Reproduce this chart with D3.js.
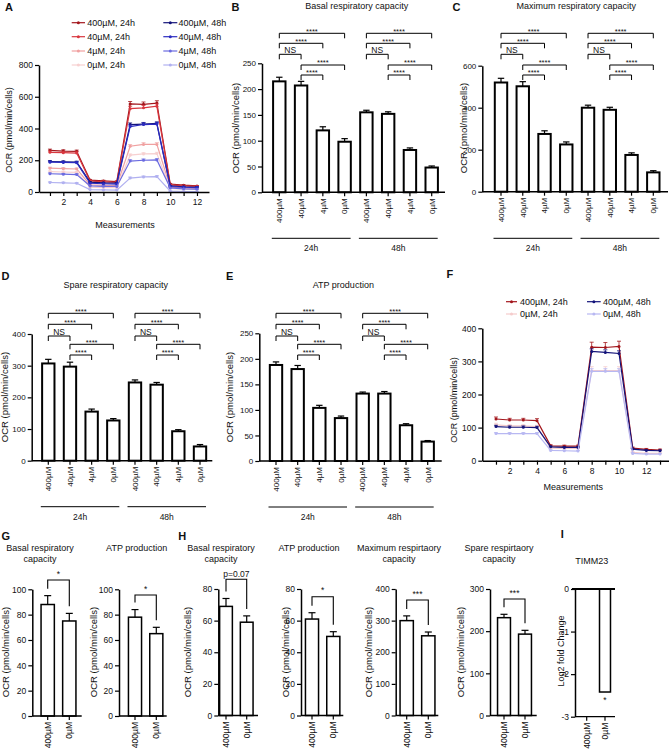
<!DOCTYPE html>
<html>
<head>
<meta charset="utf-8">
<script src="https://cdn.jsdelivr.net/npm/d3@7"></script>
<style>
  body { margin: 0; background: #fff; }
  svg { font-family: Arial, "Liberation Sans", Helvetica, sans-serif; }
</style>
</head>
<body>
<svg id="fig" width="669" height="755"></svg>
<script>
// ---------- data ----------
const doses = ["400µM", "40µM", "4µM", "0µM"];
const groups = ["24h", "48h"];
const pairLabels = ["400µM", "0µM"];

// B-E: 24h then 48h, each 400 / 40 / 4 / 0 µM
const basalMean = [215, 207, 120, 98, 155, 152, 82, 48];
const basalErr = [8, 8, 7, 6, 4, 4, 4, 3];
const maxMean = [520, 502, 275, 225, 400, 390, 175, 92];
const maxErr = [20, 22, 15, 12, 12, 12, 10, 8];
const spareMean = [307, 297, 155, 127, 247, 240, 93, 45];
const spareErr = [13, 14, 8, 6, 8, 7, 5, 6];
const atpMean = [188, 180, 104, 84, 132, 132, 70, 38];
const atpErr = [6, 7, 5, 4, 3, 4, 3, 2];

// comparisons inside each time group (index within group)
const compPairs = [[0, 3], [0, 2], [0, 1], [1, 3], [1, 2]];
const compLabels = ["****", "****", "NS", "****", "****"];

// A: seahorse traces, measurements 1-12
const measA = [1, 2, 3, 4, 5, 6, 7, 8, 9, 10, 11, 12];
const a400_24 = [262, 258, 256, 75, 70, 66, 555, 552, 560, 50, 43, 38];
const a40_24 = [250, 248, 245, 70, 64, 61, 525, 530, 540, 45, 38, 35];
const a4_24 = [150, 147, 145, 45, 42, 40, 288, 300, 300, 30, 25, 22];
const a0_24 = [128, 126, 124, 30, 28, 27, 232, 240, 242, 22, 18, 16];
const a400_48 = [192, 190, 188, 62, 58, 56, 425, 428, 432, 38, 33, 30];
const a40_48 = [188, 186, 185, 55, 52, 50, 412, 425, 428, 34, 30, 28];
const a4_48 = [115, 112, 110, 38, 36, 35, 195, 200, 202, 25, 20, 18];
const a0_48 = [60, 58, 55, 15, 13, 12, 88, 95, 97, 5, 3, 2];
const a400_24e = [8, 8, 8, 4, 4, 4, 15, 15, 15, 4, 3, 3];
const a40_24e = [8, 8, 8, 4, 4, 4, 15, 15, 15, 4, 3, 3];
const a4_24e = [6, 6, 6, 3, 3, 3, 10, 10, 10, 3, 3, 3];
const a0_24e = [5, 5, 5, 3, 3, 3, 8, 8, 8, 3, 2, 2];
const a400_48e = [6, 6, 6, 3, 3, 3, 10, 10, 10, 3, 3, 3];
const a40_48e = [6, 6, 6, 3, 3, 3, 10, 10, 10, 3, 3, 3];
const a4_48e = [5, 5, 5, 3, 3, 3, 8, 8, 8, 3, 2, 2];
const a0_48e = [4, 4, 4, 2, 2, 2, 6, 6, 6, 2, 2, 2];

// F: seahorse traces, measurements 1-13
const measF = [1, 2, 3, 4, 5, 6, 7, 8, 9, 10, 11, 12, 13];
const f400_24 = [126, 123, 123, 121, 45, 44, 44, 343, 342, 345, 38, 34, 32];
const f400_48 = [103, 101, 101, 100, 42, 40, 40, 330, 327, 324, 35, 31, 30];
const f0_24 = [108, 105, 105, 103, 38, 37, 37, 272, 272, 272, 25, 22, 22];
const f0_48 = [82, 82, 82, 82, 31, 30, 29, 270, 270, 270, 22, 20, 20];
const f400_24e = [6, 5, 5, 6, 3, 3, 3, 15, 15, 16, 3, 3, 3];
const f400_48e = [4, 4, 4, 4, 2, 2, 2, 8, 8, 8, 2, 2, 2];
const f0_24e = [5, 4, 4, 4, 2, 2, 2, 12, 12, 12, 2, 2, 2];
const f0_48e = [3, 3, 3, 3, 2, 2, 2, 8, 8, 8, 2, 2, 2];

// G / H: 400µM vs 0µM
const gBasal = [88, 75], gBasalErr = [7, 6];
const gAtp = [78, 65], gAtpErr = [6, 5];
const hBasal = [69, 59], hBasalErr = [5, 4];
const hAtp = [61, 50], hAtpErr = [4, 3];
const hMax = [300, 252], hMaxErr = [15, 12];
const hSpare = [232, 193], hSpareErr = [8, 9];

// I: TIMM23 log2 fold change
const timm23 = [0, -2.42];

// ---------- helpers ----------
const FONT = 'Arial, "Liberation Sans", Helvetica, sans-serif';
const svg = d3.select("#fig");

function txt(x, y, s, size, anchor, weight, rot) {
  const t = svg.append("text")
    .attr("x", x).attr("y", y).text(s)
    .attr("font-size", size)
    .attr("text-anchor", anchor || "start")
    .attr("font-weight", weight || "normal")
    .attr("fill", "#111");
  if (rot) t.attr("transform", `rotate(-90,${x},${y})`);
  return t;
}

function styleAxis(g, size) {
  g.attr("font-family", FONT).attr("font-size", size);
  g.select(".domain").attr("stroke", "#000").attr("stroke-width", 1.5);
  g.selectAll(".tick line").attr("stroke", "#000").attr("stroke-width", 1.2);
  g.selectAll(".tick text").attr("fill", "#111");
}

function rotateLabels(g) {
  g.selectAll(".tick text")
    .attr("transform", "rotate(-90)")
    .attr("x", -6).attr("y", 0).attr("dy", "0.35em")
    .attr("text-anchor", "end");
}

function errBars(g, xs, ys, tops, cap) {
  xs.forEach((x, i) => {
    g.append("line").attr("x1", x).attr("x2", x)
      .attr("y1", ys[i]).attr("y2", tops[i])
      .attr("stroke", "#000").attr("stroke-width", 1.2);
    g.append("line").attr("x1", x - cap).attr("x2", x + cap)
      .attr("y1", tops[i]).attr("y2", tops[i])
      .attr("stroke", "#000").attr("stroke-width", 1.2);
  });
}

// ---------- 8-bar panels (B-E) ----------
function barPanel(p, means, errs) {
  const keys = [];
  groups.forEach(g => doses.forEach(d => keys.push(g + "|" + d)));
  const step = (p.cLast - p.cFirst) / (keys.length - 1);
  const x = d3.scaleBand().domain(keys)
    .range([p.cFirst - step / 2, p.cLast + step / 2])
    .paddingInner(0.43).paddingOuter(0.215);
  const y = d3.scaleLinear().domain([0, p.yMax]).range([p.yBot, p.yTop]);
  const bw = x.bandwidth();
  const cx = k => x(k) + bw / 2;
  const g = svg.append("g");

  g.selectAll("rect").data(means).join("rect")
    .attr("x", (d, i) => x(keys[i]))
    .attr("y", d => y(d))
    .attr("width", bw)
    .attr("height", d => p.yBot - y(d))
    .attr("fill", "#fff").attr("stroke", "#000").attr("stroke-width", 2);

  errBars(g, keys.map(cx), means.map(y), means.map((d, i) => y(d + errs[i])), 3.2);

  const ya = g.append("g").attr("transform", `translate(${p.axisX},0)`)
    .call(d3.axisLeft(y).tickValues(p.ticks).tickSize(4).tickPadding(2).tickSizeOuter(0));
  styleAxis(ya, 8);

  const xa = g.append("g").attr("transform", `translate(0,${p.yBot})`)
    .call(d3.axisBottom(x).tickSize(4).tickFormat(k => k.split("|")[1]));
  xa.select(".domain").remove();
  styleAxis(xa, 8);
  rotateLabels(xa);
  g.append("line").attr("x1", p.axisX).attr("x2", p.axisEnd)
    .attr("y1", p.yBot).attr("y2", p.yBot)
    .attr("stroke", "#000").attr("stroke-width", 1.5);

  // significance brackets
  groups.forEach((gName, gi) => {
    compPairs.forEach((pr, k) => {
      const x1 = cx(keys[gi * 4 + pr[0]]), x2 = cx(keys[gi * 4 + pr[1]]);
      const by = p.brY[k];
      g.append("path")
        .attr("d", `M${x1},${by + 5}V${by}H${x2}V${by + 5}`)
        .attr("fill", "none").attr("stroke", "#000").attr("stroke-width", 1);
      const lab = compLabels[k];
      if (lab === "NS") txt((x1 + x2) / 2, by - 1.3, lab, 8.5, "middle");
      else txt((x1 + x2) / 2, by + 0.3, lab, 7.5, "middle");
    });
    // group underline
    const l0 = cx(keys[gi * 4]) - 7.5, l1 = cx(keys[gi * 4 + 3]) + 6;
    g.append("line").attr("x1", l0).attr("x2", l1)
      .attr("y1", p.groupY).attr("y2", p.groupY)
      .attr("stroke", "#000").attr("stroke-width", 1);
    txt((l0 + l1) / 2, p.groupY + 13, gName, 8.5, "middle");
  });

  txt(p.titleX, p.titleY, p.title, 9, "middle");
  txt(p.letterX, p.letterY, p.letter, 11, "start", "bold");
  txt(p.yTitleX, p.yTitleY, "OCR (pmol/min/cells)", 9.5, "middle", null, true);
}

// ---------- trace panels (A, F) ----------
function linePanel(p, meas, series) {
  const x = d3.scaleLinear().domain(p.xDomain).range(p.xRange);
  const y = d3.scaleLinear().domain([0, p.yMax]).range([p.yBot, p.yTop]);
  const g = svg.append("g");
  const line = d3.line().x((d, i) => x(meas[i])).y(d => y(d));

  series.forEach(s => {
    const sg = g.append("g");
    sg.append("path").attr("d", line(s.values))
      .attr("fill", "none").attr("stroke", s.color).attr("stroke-width", 1.2);
    s.values.forEach((v, i) => {
      const xx = x(meas[i]), top = y(v + s.errs[i]);
      sg.append("line").attr("x1", xx).attr("x2", xx).attr("y1", y(v)).attr("y2", top)
        .attr("stroke", s.color).attr("stroke-width", 0.8);
      sg.append("line").attr("x1", xx - 2).attr("x2", xx + 2).attr("y1", top).attr("y2", top)
        .attr("stroke", s.color).attr("stroke-width", 0.8);
    });
    sg.selectAll("circle").data(s.values).join("circle")
      .attr("cx", (d, i) => x(meas[i])).attr("cy", d => y(d))
      .attr("r", 1.5).attr("fill", s.color);
  });

  const ya = g.append("g").attr("transform", `translate(${p.xRange[0]},0)`)
    .call(d3.axisLeft(y).tickValues(p.ticks).tickSize(4).tickPadding(2).tickSizeOuter(0));
  styleAxis(ya, 8.5);
  const xa = g.append("g").attr("transform", `translate(0,${p.yBot})`)
    .call(d3.axisBottom(x).tickValues(meas).tickSize(4).tickSizeOuter(0)
      .tickFormat(d => d % 2 === 0 ? d : ""));
  styleAxis(xa, 8.5);

  // legend
  series.forEach((s, i) => {
    const c = p.legCols[Math.floor(i / p.legRows.length)];
    const ry = p.legRows[i % p.legRows.length];
    g.append("line").attr("x1", c.x0).attr("x2", c.x1).attr("y1", ry).attr("y2", ry)
      .attr("stroke", s.color).attr("stroke-width", 1.2);
    g.append("circle").attr("cx", (c.x0 + c.x1) / 2).attr("cy", ry).attr("r", 1.5).attr("fill", s.color);
    txt(c.tx, ry + 3.3, s.name, 9, "start");
  });

  txt(p.xTitleX, p.xTitleY, "Measurements", 9, "middle");
  txt(p.yTitleX, p.yTitleY, "OCR (pmol/min/cells)", 9, "middle", null, true);
  txt(p.letterX, p.letterY, p.letter, 11, "start", "bold");
}

// ---------- 2-bar panels (G, H) ----------
function pairPanel(p, means, errs) {
  const step = p.c[1] - p.c[0];
  const x = d3.scaleBand().domain(pairLabels)
    .range([p.c[0] - step / 2, p.c[1] + step / 2])
    .paddingInner(0.385).paddingOuter(0.1925);
  const y = d3.scaleLinear().domain([0, p.yMax]).range([p.yBot, p.yTop]);
  const bw = x.bandwidth();
  const g = svg.append("g");
  const cxs = pairLabels.map(k => x(k) + bw / 2);

  g.selectAll("rect").data(means).join("rect")
    .attr("x", (d, i) => x(pairLabels[i])).attr("y", d => y(d))
    .attr("width", bw).attr("height", d => p.yBot - y(d))
    .attr("fill", "#fff").attr("stroke", "#000").attr("stroke-width", 1.5);
  const tops = means.map((d, i) => y(d + errs[i]));
  errBars(g, cxs, means.map(y), tops, 3.5);

  const ya = g.append("g").attr("transform", `translate(${p.axisX},0)`)
    .call(d3.axisLeft(y).tickValues(p.ticks).tickSize(4).tickPadding(2).tickSizeOuter(0));
  styleAxis(ya, 8.5);
  const xa = g.append("g").attr("transform", `translate(0,${p.yBot})`)
    .call(d3.axisBottom(x).tickSize(4));
  xa.select(".domain").remove();
  styleAxis(xa, 8.5);
  rotateLabels(xa);
  g.append("line").attr("x1", p.axisX).attr("x2", p.axisEnd)
    .attr("y1", p.yBot).attr("y2", p.yBot)
    .attr("stroke", "#000").attr("stroke-width", 1.5);

  const by = p.brY;
  const leg0 = Math.max(by + 4, tops[0] - 7), leg1 = Math.max(by + 4, tops[1] - 7);
  g.append("path").attr("d", `M${cxs[0]},${leg0}V${by}H${cxs[1]}V${leg1}`)
    .attr("fill", "none").attr("stroke", "#000").attr("stroke-width", 1.1);
  const mid = (cxs[0] + cxs[1]) / 2;
  if (p.sig.startsWith("p")) txt(mid, by - 2.5, p.sig, 8.5, "middle");
  else txt(mid, by - 3.5, p.sig, 8.5, "middle");

  p.title.forEach((t, i) => txt(p.titleX, p.titleY[i], t, 9, "middle"));
  txt(p.yTitleX, 652, "OCR (pmol/min/cells)", 9.5, "middle", null, true);
}

// ---------- A ----------
linePanel({
  letter: "A", letterX: 5, letterY: 10.5,
  xDomain: [0.18, 12.9], xRange: [39, 209], yTop: 65, yBot: 192, yMax: 800,
  ticks: [0, 200, 400, 600, 800],
  xTitleX: 125, xTitleY: 227.5, yTitleX: 11.5, yTitleY: 130,
  legRows: [22.7, 36.7, 51, 65],
  legCols: [{ x0: 71.7, x1: 85, tx: 87.3 }, { x0: 163.3, x1: 177.3, tx: 178.5 }]
}, measA, [
  { name: "400µM, 24h", color: "#a3161c", values: a400_24, errs: a400_24e },
  { name: "40µM, 24h", color: "#d9363e", values: a40_24, errs: a40_24e },
  { name: "4µM, 24h", color: "#f0a0a0", values: a4_24, errs: a4_24e },
  { name: "0µM, 24h", color: "#f7d0d0", values: a0_24, errs: a0_24e },
  { name: "400µM, 48h", color: "#13137a", values: a400_48, errs: a400_48e },
  { name: "40µM, 48h", color: "#2b2bc0", values: a40_48, errs: a40_48e },
  { name: "4µM, 48h", color: "#6b6be0", values: a4_48, errs: a4_48e },
  { name: "0µM, 48h", color: "#b0b0f0", values: a0_48, errs: a0_48e }
]);

// ---------- B-E ----------
barPanel({
  letter: "B", letterX: 231.5, letterY: 10.5,
  title: "Basal respiratory capacity", titleX: 356.7, titleY: 9,
  cFirst: 279.3, cLast: 431.7, axisX: 262, axisEnd: 445,
  yTop: 63.3, yBot: 192.3, yMax: 250, ticks: [0, 50, 100, 150, 200, 250],
  brY: [33.3, 43.3, 54.3, 65, 75], groupY: 238.3,
  yTitleX: 238.5, yTitleY: 128
}, basalMean, basalErr);

barPanel({
  letter: "C", letterX: 452.5, letterY: 10.5,
  title: "Maximum respiratory capacity", titleX: 576.3, titleY: 9,
  cFirst: 501, cLast: 653.3, axisX: 482.3, axisEnd: 668,
  yTop: 65.7, yBot: 191.7, yMax: 600, ticks: [0, 200, 400, 600],
  brY: [33.3, 43.3, 54.3, 65, 75], groupY: 238.3,
  yTitleX: 466.5, yTitleY: 128
}, maxMean, maxErr);

barPanel({
  letter: "D", letterX: 1.5, letterY: 279.5,
  title: "Spare respiratory capacity", titleX: 115.8, titleY: 288.3,
  cFirst: 48.3, cLast: 200, axisX: 31.7, axisEnd: 212.3,
  yTop: 334, yBot: 460.7, yMax: 400, ticks: [0, 100, 200, 300, 400],
  brY: [313.3, 324.3, 336, 344.3, 355], groupY: 506.7,
  yTitleX: 7.5, yTitleY: 397
}, spareMean, spareErr);

barPanel({
  letter: "E", letterX: 226, letterY: 279.5,
  title: "ATP production", titleX: 343.3, titleY: 288.3,
  cFirst: 276, cLast: 427.7, axisX: 259.3, axisEnd: 441.7,
  yTop: 333.3, yBot: 461, yMax: 250, ticks: [0, 50, 100, 150, 200, 250],
  brY: [313.3, 324.3, 336, 344.3, 355], groupY: 507,
  yTitleX: 233, yTitleY: 397
}, atpMean, atpErr);

// ---------- F ----------
linePanel({
  letter: "F", letterX: 446.5, letterY: 277.5,
  xDomain: [0, 13.7], xRange: [482.3, 669.6], yTop: 328.3, yBot: 460.7, yMax: 400,
  ticks: [0, 100, 200, 300, 400],
  xTitleX: 573.3, xTitleY: 489.5, yTitleX: 456.5, yTitleY: 400,
  legRows: [301.7, 314],
  legCols: [{ x0: 506, x1: 517, tx: 520 }, { x0: 587, x1: 600.7, tx: 603 }]
}, measF, [
  { name: "400µM, 24h", color: "#a3161c", values: f400_24, errs: f400_24e },
  { name: "0µM, 24h", color: "#f5cccc", values: f0_24, errs: f0_24e },
  { name: "400µM, 48h", color: "#13137a", values: f400_48, errs: f400_48e },
  { name: "0µM, 48h", color: "#b8b8f2", values: f0_48, errs: f0_48e }
]);

// ---------- G ----------
txt(1.5, 539.5, "G", 11, "start", "bold");
pairPanel({
  axisX: 32.3, c: [47.7, 69.3], axisEnd: 81.7, yTop: 589.3, yBot: 716, yMax: 100,
  ticks: [0, 20, 40, 60, 80, 100], sig: "*", brY: 580,
  title: ["Basal respiratory", "capacity"], titleX: 40, titleY: [550.7, 561.7], yTitleX: 8.5
}, gBasal, gBasalErr);
pairPanel({
  axisX: 119, c: [135, 156.3], axisEnd: 166.7, yTop: 589.3, yBot: 716, yMax: 100,
  ticks: [0, 20, 40, 60, 80, 100], sig: "*", brY: 595,
  title: ["ATP production"], titleX: 136.7, titleY: [550.7], yTitleX: 97
}, gAtp, gAtpErr);

// ---------- H ----------
txt(178.3, 539.5, "H", 11, "start", "bold");
pairPanel({
  axisX: 218.3, c: [226, 246.7], axisEnd: 258, yTop: 589, yBot: 715.5, yMax: 80,
  ticks: [0, 20, 40, 60, 80], sig: "p=0.07", brY: 579.3,
  title: ["Basal respiratory", "capacity"], titleX: 221, titleY: [550.7, 561.7], yTitleX: 190.5
}, hBasal, hBasalErr);
pairPanel({
  axisX: 301, c: [312, 333.3], axisEnd: 343.3, yTop: 589, yBot: 715.5, yMax: 80,
  ticks: [0, 20, 40, 60, 80], sig: "*", brY: 596.7,
  title: ["ATP production"], titleX: 309, titleY: [550.7], yTitleX: 288.5
}, hAtp, hAtpErr);
pairPanel({
  axisX: 395.7, c: [406.7, 428.3], axisEnd: 438.3, yTop: 589, yBot: 715.5, yMax: 400,
  ticks: [0, 100, 200, 300, 400], sig: "***", brY: 600,
  title: ["Maximum respirtaory", "capacity"], titleX: 399, titleY: [550.7, 561.7], yTitleX: 372
}, hMax, hMaxErr);
pairPanel({
  axisX: 490, c: [504, 525], axisEnd: 536.7, yTop: 589, yBot: 715.5, yMax: 300,
  ticks: [0, 100, 200, 300], sig: "***", brY: 599,
  title: ["Spare respirtaory", "capacity"], titleX: 499, titleY: [550.7, 561.7], yTitleX: 463.5
}, hSpare, hSpareErr);

// ---------- I ----------
(function () {
  const axisX = 575, axisEnd = 615, yTop = 589, yBot = 716.7;
  const c = [586.7, 605];
  const step = c[1] - c[0];
  const x = d3.scaleBand().domain(pairLabels)
    .range([c[0] - step / 2, c[1] + step / 2])
    .paddingInner(0.4).paddingOuter(0.2);
  const y = d3.scaleLinear().domain([-3, 0]).range([yBot, yTop]);
  const bw = x.bandwidth();
  const g = svg.append("g");

  g.selectAll("rect").data(timm23).join("rect")
    .attr("x", (d, i) => x(pairLabels[i]))
    .attr("y", d => y(Math.max(0, d)))
    .attr("width", bw)
    .attr("height", d => Math.abs(y(d) - y(0)))
    .attr("fill", "#fff").attr("stroke", "#000").attr("stroke-width", 1.5);

  const ya = g.append("g").attr("transform", `translate(${axisX},0)`)
    .call(d3.axisLeft(y).tickValues([0, -1, -2, -3]).tickSize(4).tickPadding(2)
      .tickSizeOuter(0).tickFormat(d => String(d)));
  styleAxis(ya, 8.5);
  const xa = g.append("g").attr("transform", `translate(0,${yBot})`)
    .call(d3.axisBottom(x).tickSize(4));
  xa.select(".domain").remove();
  styleAxis(xa, 8.5);
  rotateLabels(xa);
  g.append("line").attr("x1", axisX).attr("x2", axisEnd).attr("y1", yBot).attr("y2", yBot)
    .attr("stroke", "#000").attr("stroke-width", 1.2);
  g.append("line").attr("x1", axisX - 3).attr("x2", axisEnd).attr("y1", y(0)).attr("y2", y(0))
    .attr("stroke", "#000").attr("stroke-width", 2);

  txt(x(pairLabels[1]) + bw / 2, y(timm23[1]) + 10.5, "*", 8.5, "middle");
  txt(560.7, 538, "I", 11, "start", "bold");
  txt(591.7, 564, "TIMM23", 9, "middle");
  txt(564, 651, "Log2 fold Change", 9, "middle", null, true);
})();
</script>
</body>
</html>
